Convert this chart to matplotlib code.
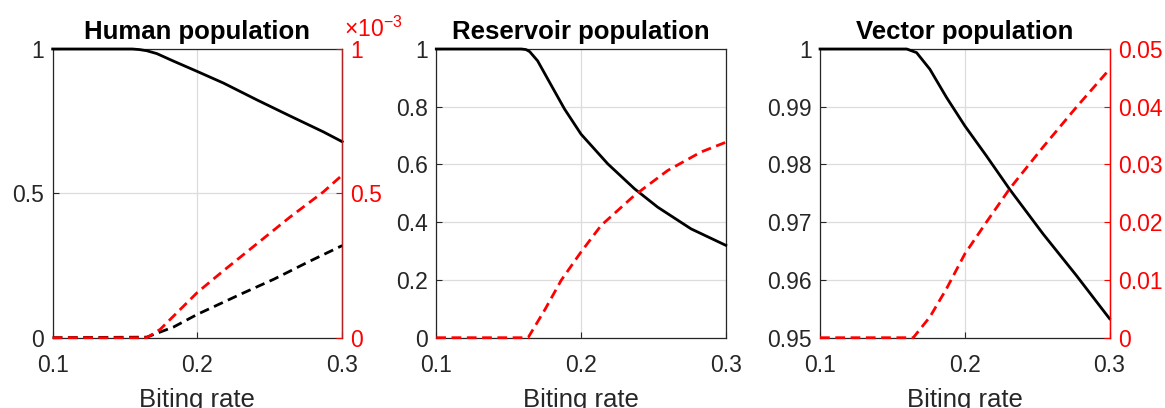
import matplotlib.pyplot as plt
from matplotlib.ticker import FuncFormatter

plt.rcParams['font.family'] = ['Liberation Sans', 'DejaVu Sans']
plt.rcParams['mathtext.fontset'] = 'custom'
plt.rcParams['mathtext.rm'] = 'Liberation Sans'
plt.rcParams['mathtext.it'] = 'Liberation Sans:italic'

# values
titles = ['Human population', 'Reservoir population', 'Vector population']
xlabel = 'Biting rate'

# human population (left axis: black series, right axis: red series)
human_s_x = [0.1, 0.155, 0.16, 0.165, 0.172, 0.1835, 0.2, 0.218, 0.241, 0.264, 0.287, 0.3]
human_s = [1.0, 1.0, 0.998, 0.994, 0.984, 0.958, 0.922, 0.882, 0.824, 0.768, 0.713, 0.679]
human_i_x = [0.1, 0.165, 0.1835, 0.2, 0.23, 0.253, 0.276, 0.3]
human_i = [0.0, 0.002, 0.037, 0.081, 0.151, 0.203, 0.261, 0.319]
human_r_x = [0.1, 0.165, 0.1743, 0.2, 0.218, 0.241, 0.264, 0.287, 0.3]
human_r = [0.0, 0.0, 0.029e-3, 0.157e-3, 0.232e-3, 0.325e-3, 0.418e-3, 0.505e-3, 0.563e-3]

# reservoir population
res_s_x = [0.1, 0.1588, 0.162, 0.1645, 0.170, 0.179, 0.1886, 0.2, 0.2185, 0.2369, 0.253, 0.276, 0.3]
res_s = [1.0, 1.0, 0.998, 0.991, 0.959, 0.878, 0.792, 0.705, 0.602, 0.516, 0.452, 0.377, 0.32]
res_r_x = [0.1, 0.1634, 0.1749, 0.1863, 0.2, 0.2139, 0.2369, 0.2598, 0.2828, 0.3]
res_r = [0.0, 0.0, 0.096, 0.199, 0.297, 0.389, 0.493, 0.579, 0.643, 0.677]

# vector population
vec_s_x = [0.1, 0.1599, 0.1667, 0.1759, 0.1874, 0.2, 0.2149, 0.2310, 0.254, 0.277, 0.3]
vec_s = [1.0, 1.0, 0.99937, 0.99649, 0.9916, 0.9867, 0.9815, 0.9757, 0.968, 0.9608, 0.9533]
vec_r_x = [0.1, 0.1644, 0.1759, 0.1874, 0.2, 0.2149, 0.2310, 0.254, 0.277, 0.3]
vec_r = [0.0, 0.0, 0.0036, 0.0085, 0.0145, 0.0200, 0.0258, 0.0330, 0.0399, 0.0465]

xticks = [0.1, 0.2, 0.3]
human_yticks = [0, 0.5, 1]
human_rticks = [0, 0.5e-3, 1e-3]
res_yticks = [0, 0.2, 0.4, 0.6, 0.8, 1]
vec_yticks = [0.95, 0.96, 0.97, 0.98, 0.99, 1]
vec_rticks = [0, 0.01, 0.02, 0.03, 0.04, 0.05]

dark = '#262626'
fs = 16.5
tfs = 18.5
lw = 2.0
dash = (3.5, 2)

fig = plt.figure(figsize=(11.65, 4.08), dpi=100)
lefts = [0.0452, 0.3745, 0.7039]
axs = [fig.add_axes([l, 0.1723, 0.2485, 0.7076]) for l in lefts]

gfmt = FuncFormatter(lambda v, p: '%g' % round(v, 6))


def style(ax, yticks):
    ax.set_xlim(0.1, 0.3)
    ax.set_xticks(xticks)
    ax.set_yticks(yticks)
    ax.set_ylim(yticks[0], yticks[-1])
    ax.xaxis.set_major_formatter(gfmt)
    ax.yaxis.set_major_formatter(gfmt)
    ax.grid(True, color='#dcdcdc', linewidth=0.9)
    ax.set_axisbelow(True)
    ax.tick_params(direction='in', length=4, width=0.8, labelsize=fs, colors=dark)
    ax.tick_params(axis='x', pad=12)
    ax.tick_params(axis='y', pad=6)
    for s in ax.spines.values():
        s.set_color(dark)
        s.set_linewidth(0.9)
    ax.set_xlabel(xlabel, fontsize=tfs, color=dark, labelpad=8)


def right_axis(ax, rticks, fmt):
    rx = ax.twinx()
    rx.set_ylim(rticks[0], rticks[-1])
    rx.set_yticks(rticks)
    rx.yaxis.set_major_formatter(fmt)
    rx.tick_params(direction='in', length=4, width=0.8, labelsize=fs, colors='red', pad=6)
    for k in ['left', 'top', 'bottom']:
        rx.spines[k].set_visible(False)
    rx.spines['right'].set_color('red')
    rx.spines['right'].set_linewidth(0.9)
    return rx


# panel 1: human
ax = axs[0]
style(ax, human_yticks)
ax.plot(human_s_x, human_s, color='black', lw=lw, clip_on=False, zorder=3)
ax.plot(human_i_x, human_i, color='black', lw=lw, dashes=dash, clip_on=False, zorder=3)
rx = right_axis(ax, human_rticks, FuncFormatter(lambda v, p: '%g' % round(v * 1e3, 6)))
rx.spines['right'].set_color('#b22222')
rx.plot(human_r_x, human_r, color='red', lw=lw, dashes=dash, clip_on=False)
rx.text(1.008, 1.042, r'$\times10^{-3}$', transform=rx.transAxes, color='red',
        fontsize=fs, ha='left', va='baseline')
ax.set_title(titles[0], fontsize=tfs, fontweight='bold', pad=7)

# panel 2: reservoir
ax = axs[1]
style(ax, res_yticks)
ax.plot(res_s_x, res_s, color='black', lw=lw, clip_on=False, zorder=3)
ax.plot(res_r_x, res_r, color='red', lw=lw, dashes=dash, clip_on=False, zorder=3)
ax.set_title(titles[1], fontsize=tfs, fontweight='bold', pad=7)

# panel 3: vector
ax = axs[2]
style(ax, vec_yticks)
ax.plot(vec_s_x, vec_s, color='black', lw=lw, clip_on=False, zorder=3)
rx = right_axis(ax, vec_rticks, gfmt)
rx.plot(vec_r_x, vec_r, color='red', lw=lw, dashes=dash, clip_on=False)
ax.set_title(titles[2], fontsize=tfs, fontweight='bold', pad=7)

fig.savefig('out.png', dpi=100)
